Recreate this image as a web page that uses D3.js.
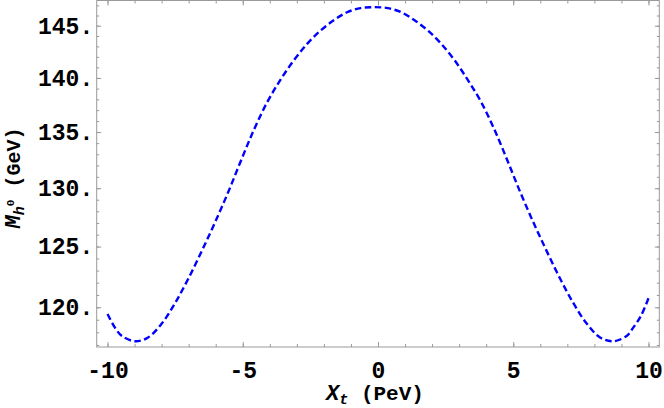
<!DOCTYPE html>
<html><head><meta charset="utf-8">
<script src="https://cdn.jsdelivr.net/npm/d3@7"></script>
<style>body{margin:0;background:#fff}</style></head>
<body><svg id="c" width="664" height="408"></svg>
<script>
// Data (X_t in PeV, M_h0 in GeV)
const xtValues = [-10.0,-9.72,-9.47,-8.98,-8.50,-7.98,-7.50,-7.02,-6.50,-6.02,-5.54,-5.06,-4.58,-4.10,-3.62,-3.10,-2.62,-2.14,-1.62,-1.14,-0.64,-0.14,
                  0.36,0.86,1.34,1.86,2.34,2.82,3.33,3.82,4.30,4.78,5.26,5.74,6.22,6.74,7.22,7.70,8.21,8.69,9.19,9.43,9.72,10.0];
const massValues = [119.46,118.35,117.71,117.29,117.59,118.74,120.35,122.30,124.70,127.07,129.65,132.47,135.25,137.72,139.77,141.71,143.24,144.49,145.56,146.32,146.73,146.82,
                    146.73,146.32,145.56,144.49,143.24,141.71,139.77,137.72,135.25,132.47,129.65,127.07,124.70,122.30,120.35,118.74,117.59,117.29,117.71,118.35,119.30,120.73];
const xTickValues = [-10,-5,0,5,10];
const yTickValues = [120,125,130,135,140,145];
const xMinorTicks = d3.range(-10,11,1);
const yMinorTicks = d3.range(117,148,1);

const svg = d3.select("#c");
const L=96.7, R=659.3, T=0.5, B=347;
const x = d3.scaleLinear().domain([-10.4,10.4]).range([L,R]);
const y = d3.scaleLog().domain([116.84,147.48]).range([B,T]);
const font = "'Liberation Mono','DejaVu Sans Mono',monospace";
const frameCol = "#9a9a9a";

function styleAxis(g){
  g.select(".domain").remove();
  g.selectAll(".tick line").attr("stroke",frameCol).attr("stroke-width",1);
  g.selectAll("text").attr("font-family",font).attr("font-weight","bold").attr("font-size",23).attr("fill","#000");
}
// minor ticks
svg.append("g").attr("transform",`translate(0,${B})`).call(d3.axisBottom(x).tickValues(xMinorTicks).tickSize(-3).tickFormat("")).call(styleAxis);
svg.append("g").attr("transform",`translate(0,${T})`).call(d3.axisTop(x).tickValues(xMinorTicks).tickSize(-3).tickFormat("")).call(styleAxis);
svg.append("g").attr("transform",`translate(${L},0)`).call(d3.axisLeft(y).tickValues(yMinorTicks).tickSize(-2.5).tickFormat("")).call(styleAxis);
svg.append("g").attr("transform",`translate(${R},0)`).call(d3.axisRight(y).tickValues(yMinorTicks).tickSize(-2.5).tickFormat("")).call(styleAxis);
// major ticks
svg.append("g").attr("transform",`translate(0,${B})`).call(d3.axisBottom(x).tickValues(xTickValues).tickSize(-5).tickPadding(15).tickFormat(d=>String(d))).call(styleAxis);
svg.append("g").attr("transform",`translate(0,${T})`).call(d3.axisTop(x).tickValues(xTickValues).tickSize(-5).tickFormat("")).call(styleAxis);
svg.append("g").attr("transform",`translate(${L},0)`).call(d3.axisLeft(y).tickValues(yTickValues).tickSize(-4.5).tickPadding(3.5).tickFormat(d=>d+".")).call(styleAxis);
svg.append("g").attr("transform",`translate(${R},0)`).call(d3.axisRight(y).tickValues(yTickValues).tickSize(-4.5).tickFormat("")).call(styleAxis);
// frame
svg.append("rect").attr("x",L).attr("y",T).attr("width",R-L).attr("height",B-T)
  .attr("fill","none").attr("stroke",frameCol).attr("stroke-width",1);

// curve
const pts = xtValues.map((v,i)=>[v,massValues[i]]);
svg.append("path").datum(pts)
  .attr("d", d3.line().x(d=>x(d[0])).y(d=>y(d[1])).curve(d3.curveCatmullRom.alpha(0.5)))
  .attr("fill","none").attr("stroke","#0000ff").attr("stroke-width",2.4)
  .attr("stroke-dasharray","6.5,3.5");

// x label
const xl = svg.append("text").attr("x",375).attr("y",400).attr("text-anchor","middle")
  .attr("font-family",font).attr("font-weight","bold").attr("font-size",21);
xl.append("tspan").attr("font-style","italic").attr("font-size",22).text("X");
xl.append("tspan").attr("font-style","italic").attr("font-size",15).attr("dy",4).text("t");
xl.append("tspan").attr("dy",-4).text(" (PeV)");

// y label
const yl = svg.append("text").attr("transform","translate(20,178) rotate(-90)").attr("text-anchor","middle")
  .attr("font-family",font).attr("font-weight","bold").attr("font-size",20);
yl.append("tspan").attr("font-style","italic").attr("font-size",22).text("M");
yl.append("tspan").attr("font-style","italic").attr("font-size",15).attr("dy",4).text("h");
yl.append("tspan").attr("font-size",11).attr("dy",-10).text("0");
yl.append("tspan").attr("dy",6).text(" (GeV)");
</script></body></html>
